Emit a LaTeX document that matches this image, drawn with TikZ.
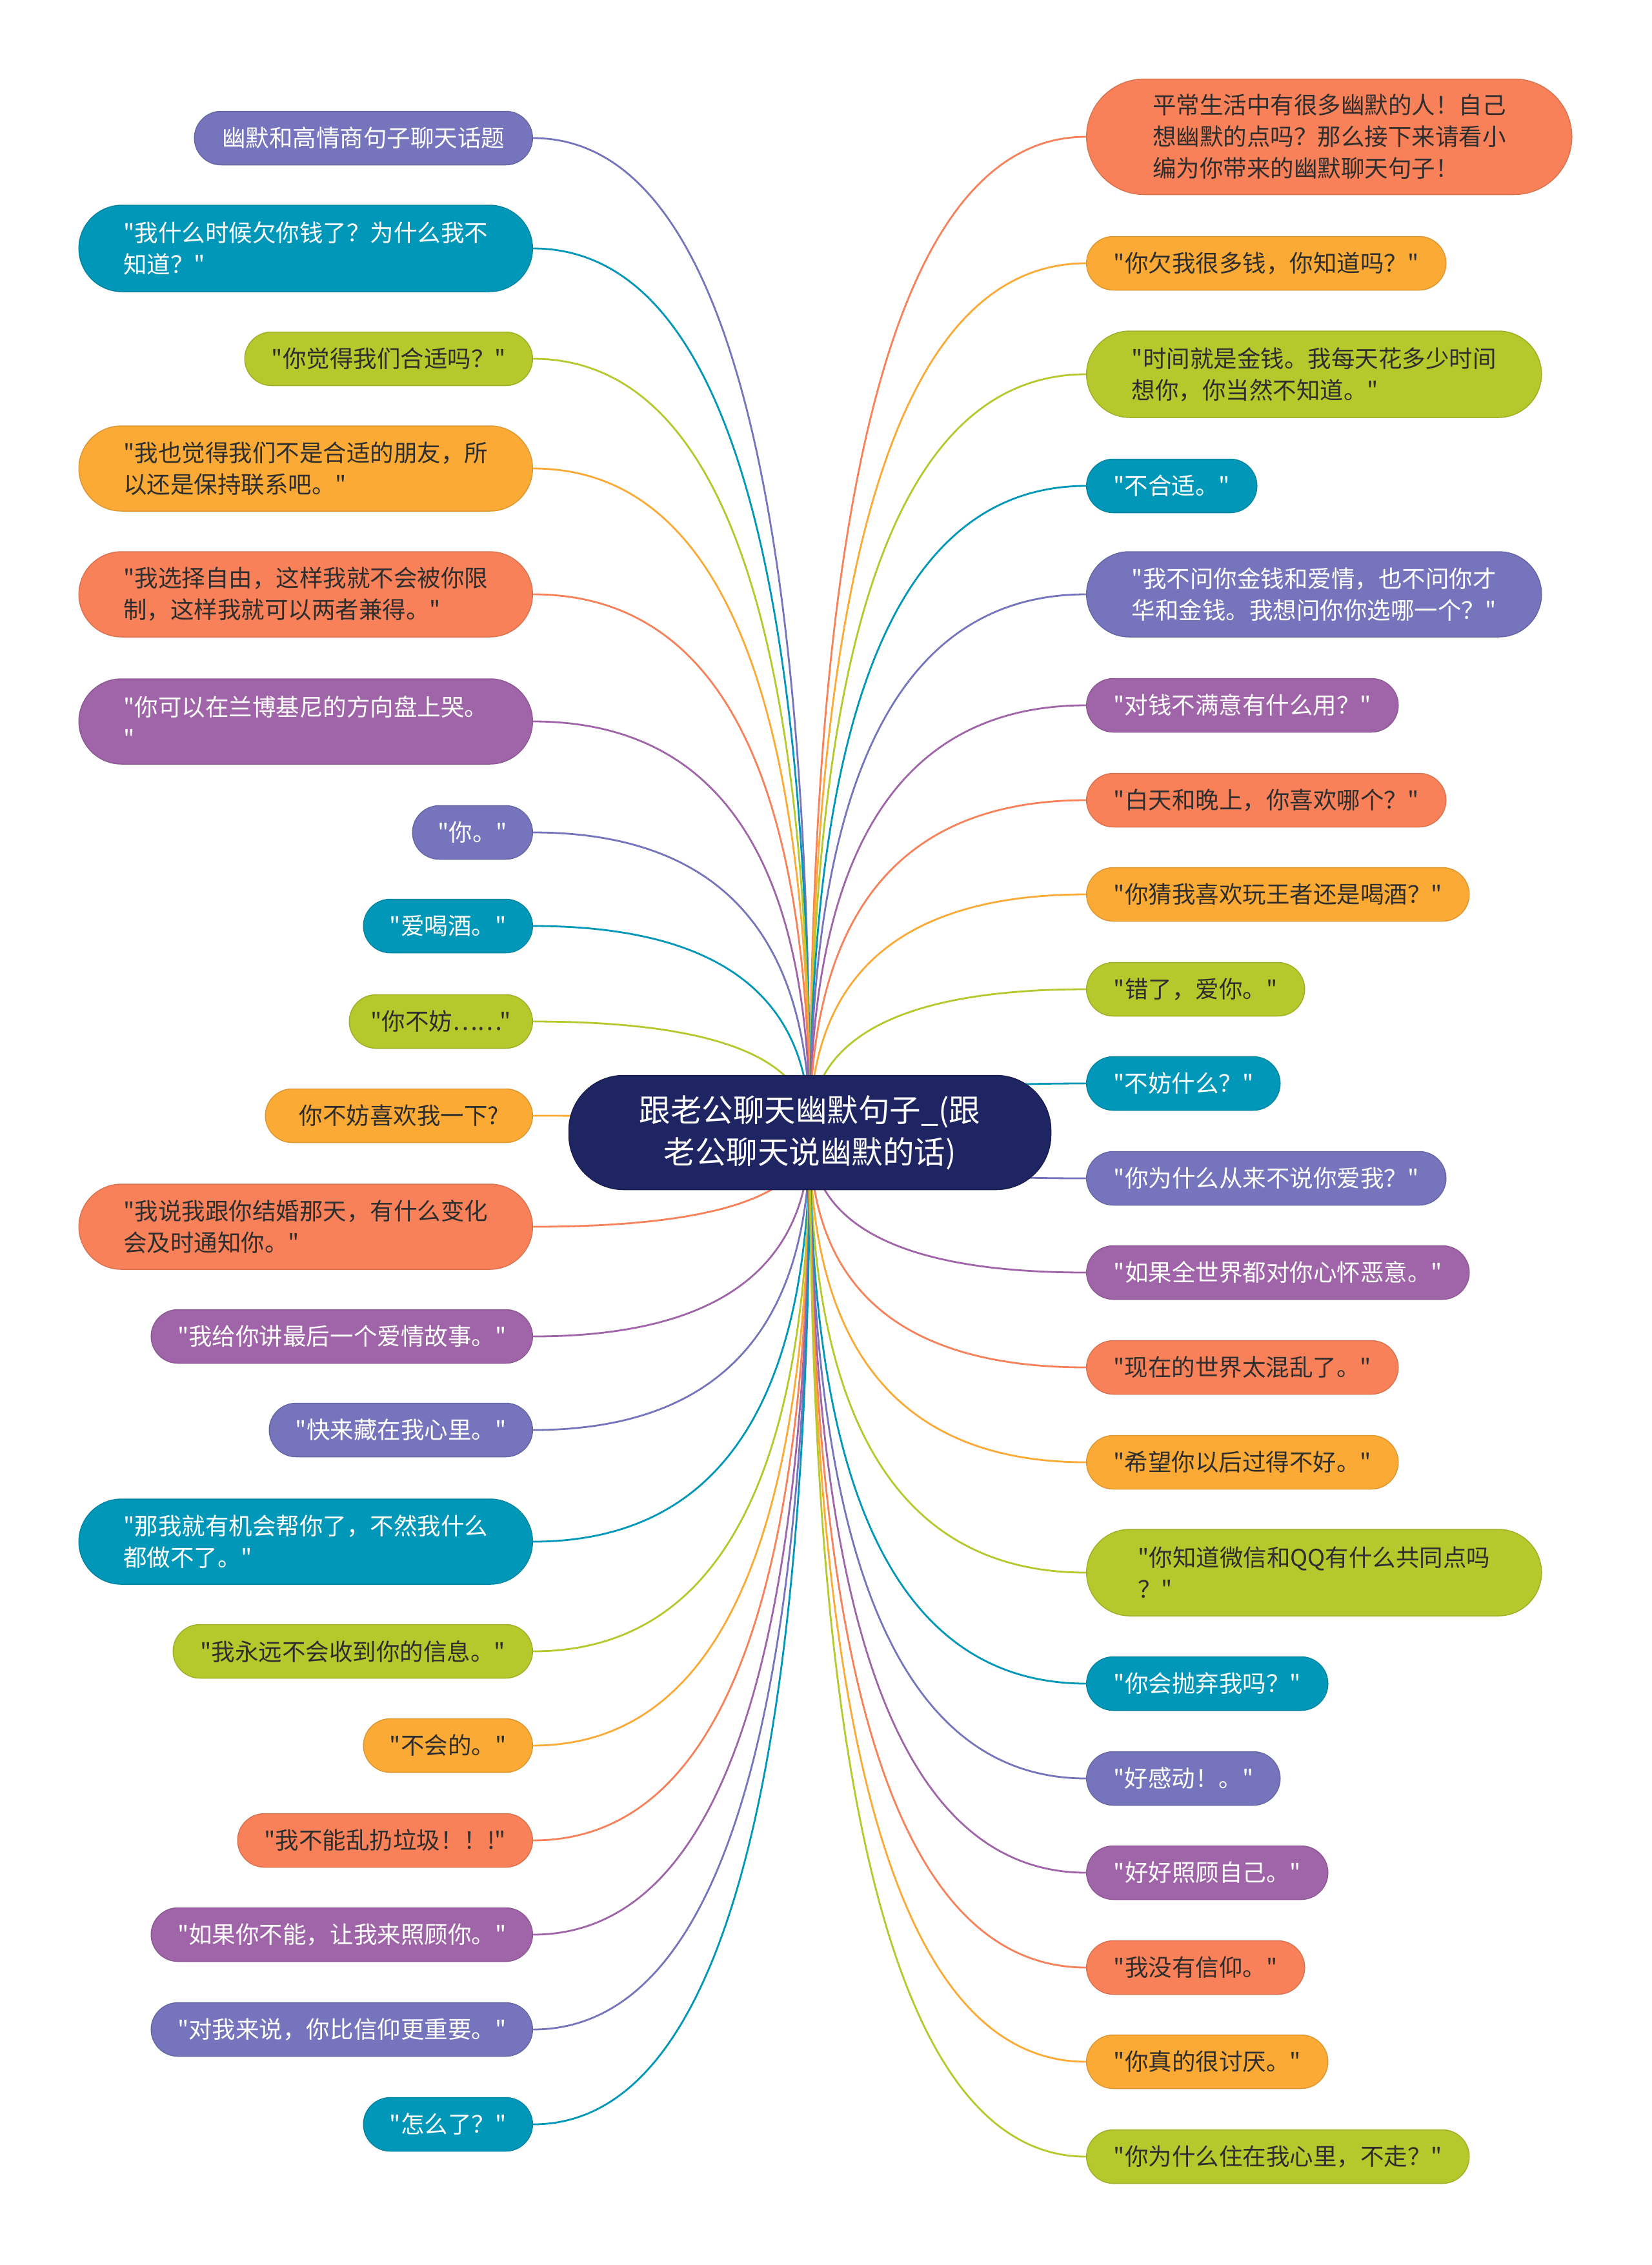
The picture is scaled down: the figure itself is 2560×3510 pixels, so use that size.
\documentclass[tikz,border=0pt]{standalone}
\usepackage{fontspec}
\newfontfamily\cjk{Noto Sans CJK SC}
\usetikzlibrary{shapes.misc,calc,backgrounds}
\definecolor{cA}{HTML}{7574BC}
\definecolor{cB}{HTML}{0097B8}
\definecolor{cC}{HTML}{B5C82C}
\definecolor{cD}{HTML}{FBAA36}
\definecolor{cE}{HTML}{F8815A}
\definecolor{cF}{HTML}{A064A8}
\definecolor{cN}{HTML}{1F2562}
\definecolor{tdark}{HTML}{2E2E2E}
\tikzset{
  pill/.style={rounded rectangle, inner sep=0pt, line width=1.5bp, font=\cjk\fontsize{36.5bp}{49bp}\selectfont, align=left},
  kA/.style={pill, fill=cA, draw=cA!88!black, text=white},
  kB/.style={pill, fill=cB, draw=cB!88!black, text=white},
  kC/.style={pill, fill=cC, draw=cC!88!black, text=tdark},
  kD/.style={pill, fill=cD, draw=cD!88!black, text=tdark},
  kE/.style={pill, fill=cE, draw=cE!88!black, text=tdark},
  kF/.style={pill, fill=cF, draw=cF!88!black, text=white},
  lft/.style 2 args={minimum width=#1bp, minimum height=#2bp, anchor=east},
  rgt/.style 2 args={minimum width=#1bp, minimum height=#2bp, anchor=west},
  ln/.style={line width=2.8bp},
}
\newcommand\lk[2]{%
  \path (C.center |- #2) coordinate (q);
  \draw[ln,#1] (C.center) .. controls ($(C.center)!0.6667!(q)$) and ($(#2)!0.6667!(q)$) .. (#2);}
\begin{document}
\begin{tikzpicture}[x=1bp,y=-1bp]
\useasboundingbox (0,0) rectangle (2560,3510);
% center
\node[rectangle, rounded corners=85bp, fill=cN, draw=cN!80!black, line width=1.5bp, text=white,
  minimum width=747bp, minimum height=177bp,
  inner sep=0pt, align=center, font=\cjk\fontsize{48.5bp}{65bp}\selectfont] (C) at (1255,1755)
  {跟老公聊天幽默句子\_(跟\\老公聊天说幽默的话)};
% left column
\node[kA, lft={524}{83}] (L1) at (826,214) {幽默和高情商句子聊天话题};
\node[kB, lft={703}{134}] (L2) at (826,385) {"我什么时候欠你钱了？为什么我不\\知道？"};
\node[kC, lft={446}{83}] (L3) at (826,556) {"你觉得我们合适吗？"};
\node[kD, lft={703}{132}] (L4) at (826,726) {"我也觉得我们不是合适的朋友，所\\以还是保持联系吧。"};
\node[kE, lft={703}{132}] (L5) at (826,921) {"我选择自由，这样我就不会被你限\\制，这样我就可以两者兼得。"};
\node[kF, lft={703}{132}] (L6) at (826,1118) {"你可以在兰博基尼的方向盘上哭。\\"};
\node[kA, lft={186}{83}] (L7) at (826,1290) {"你。"};
\node[kB, lft={262}{83}] (L8) at (826,1435) {"爱喝酒。"};
\node[kC, lft={284}{83}] (L9) at (826,1583) {"你不妨……"};
\node[kD, lft={414}{83}] (L10) at (826,1729) {你不妨喜欢我一下?};
\node[kE, lft={703}{132}] (L11) at (826,1901) {"我说我跟你结婚那天，有什么变化\\会及时通知你。"};
\node[kF, lft={591}{83}] (L12) at (826,2071) {"我给你讲最后一个爱情故事。"};
\node[kA, lft={408}{83}] (L13) at (826,2216) {"快来藏在我心里。"};
\node[kB, lft={703}{132}] (L14) at (826,2389) {"那我就有机会帮你了，不然我什么\\都做不了。"};
\node[kC, lft={557}{83}] (L15) at (826,2559) {"我永远不会收到你的信息。"};
\node[kD, lft={262}{83}] (L16) at (826,2705) {"不会的。"};
\node[kE, lft={457}{83}] (L17) at (826,2852) {"我不能乱扔垃圾！！!"};
\node[kF, lft={591}{83}] (L18) at (826,2998) {"如果你不能，让我来照顾你。"};
\node[kA, lft={591}{83}] (L19) at (826,3145) {"对我来说，你比信仰更重要。"};
\node[kB, lft={262}{83}] (L20) at (826,3292) {"怎么了？"};
% right column
\node[kE, rgt={752}{179}] (R1) at (1683,212) {平常生活中有很多幽默的人！自己\\想幽默的点吗？那么接下来请看小\\编为你带来的幽默聊天句子！};
\node[kD, rgt={557}{83}] (R2) at (1683,408) {"你欠我很多钱，你知道吗？"};
\node[kC, rgt={705}{134}] (R3) at (1683,580) {"时间就是金钱。我每天花多少时间\\想你，你当然不知道。"};
\node[kB, rgt={264}{83}] (R4) at (1683,753) {"不合适。"};
\node[kA, rgt={705}{132}] (R5) at (1683,921) {"我不问你金钱和爱情，也不问你才\\华和金钱。我想问你你选哪一个？"};
\node[kF, rgt={483}{83}] (R6) at (1683,1093) {"对钱不满意有什么用？"};
\node[kE, rgt={557}{83}] (R7) at (1683,1240) {"白天和晚上，你喜欢哪个？"};
\node[kD, rgt={593}{83}] (R8) at (1683,1386) {"你猜我喜欢玩王者还是喝酒？"};
\node[kC, rgt={338}{83}] (R9) at (1683,1533) {"错了，爱你。"};
\node[kB, rgt={300}{83}] (R10) at (1683,1679) {"不妨什么？"};
\node[kA, rgt={557}{83}] (R11) at (1683,1826) {"你为什么从来不说你爱我？"};
\node[kF, rgt={593}{83}] (R12) at (1683,1972) {"如果全世界都对你心怀恶意。"};
\node[kE, rgt={483}{83}] (R13) at (1683,2119) {"现在的世界太混乱了。"};
\node[kD, rgt={483}{83}] (R14) at (1683,2266) {"希望你以后过得不好。"};
\node[kC, rgt={705}{134}] (R15) at (1683,2437) {"你知道微信和QQ有什么共同点吗\\？"};
\node[kB, rgt={374}{83}] (R16) at (1683,2609) {"你会抛弃我吗？"};
\node[kA, rgt={300}{83}] (R17) at (1683,2756) {"好感动！。"};
\node[kF, rgt={374}{83}] (R18) at (1683,2902) {"好好照顾自己。"};
\node[kE, rgt={338}{83}] (R19) at (1683,3049) {"我没有信仰。"};
\node[kD, rgt={374}{83}] (R20) at (1683,3195) {"你真的很讨厌。"};
\node[kC, rgt={593}{83}] (R21) at (1683,3342) {"你为什么住在我心里，不走？"};
\begin{pgfonlayer}{background}
\fill[white] (0,0) rectangle (2560,3510);
\lk{cA}{L1.east}\lk{cB}{L2.east}\lk{cC}{L3.east}\lk{cD}{L4.east}\lk{cE}{L5.east}
\lk{cF}{L6.east}\lk{cA}{L7.east}\lk{cB}{L8.east}\lk{cC}{L9.east}\lk{cD}{L10.east}
\lk{cE}{L11.east}\lk{cF}{L12.east}\lk{cA}{L13.east}\lk{cB}{L14.east}\lk{cC}{L15.east}
\lk{cD}{L16.east}\lk{cE}{L17.east}\lk{cF}{L18.east}\lk{cA}{L19.east}\lk{cB}{L20.east}
\lk{cE}{R1.west}\lk{cD}{R2.west}\lk{cC}{R3.west}\lk{cB}{R4.west}\lk{cA}{R5.west}
\lk{cF}{R6.west}\lk{cE}{R7.west}\lk{cD}{R8.west}\lk{cC}{R9.west}\lk{cB}{R10.west}
\lk{cA}{R11.west}\lk{cF}{R12.west}\lk{cE}{R13.west}\lk{cD}{R14.west}\lk{cC}{R15.west}
\lk{cB}{R16.west}\lk{cA}{R17.west}\lk{cF}{R18.west}\lk{cE}{R19.west}\lk{cD}{R20.west}
\lk{cC}{R21.west}
\end{pgfonlayer}
\end{tikzpicture}
\end{document}
